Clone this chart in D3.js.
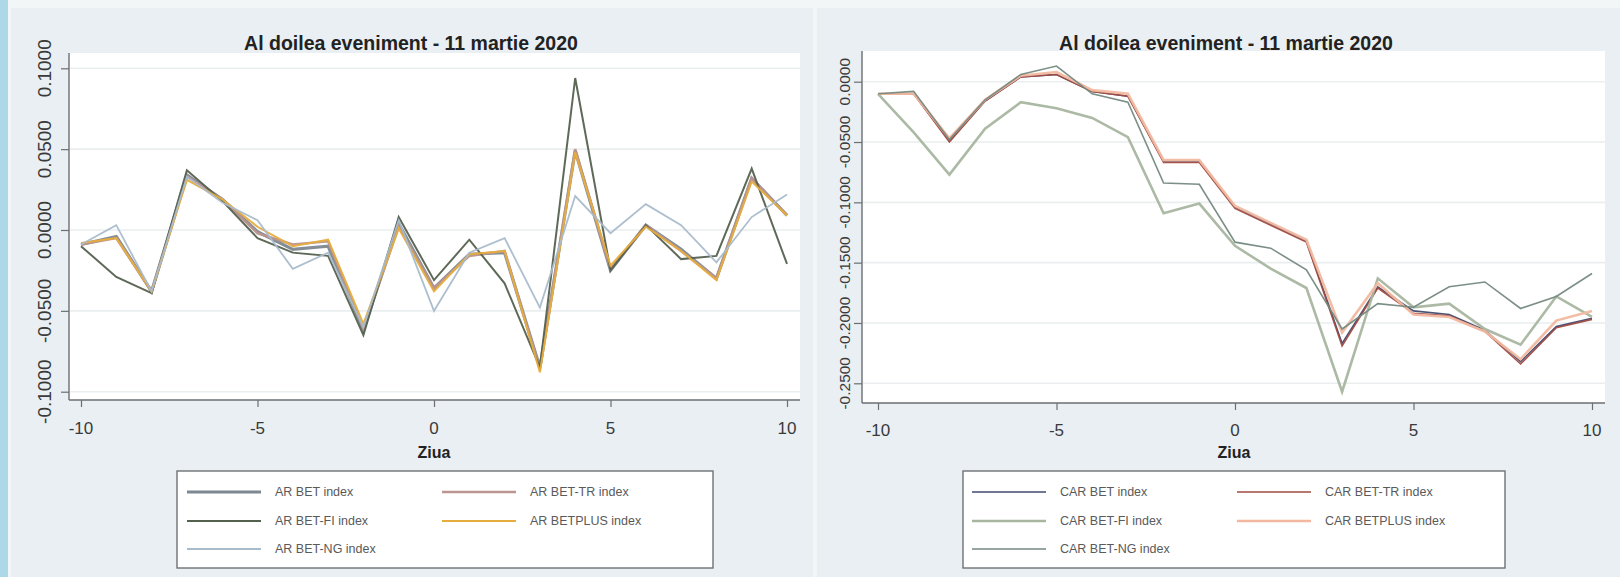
<!DOCTYPE html>
<html>
<head>
<meta charset="utf-8">
<script src="https://cdn.jsdelivr.net/npm/d3@7"></script>
<style>
  html, body { margin: 0; padding: 0; background: #ffffff; }
  svg { display: block; font-family: "Liberation Sans", Arial, sans-serif; }
</style>
</head>
<body>
<svg id="chart" width="1620" height="577"></svg>
<script>
// ---------- DATA ----------
const days = [-10,-9,-8,-7,-6,-5,-4,-3,-2,-1,0,1,2,3,4,5,6,7,8,9,10];
const chartTitle = "Al doilea eveniment - 11 martie 2020";
const xAxisTitle = "Ziua";
const xTicks = [-10, -5, 0, 5, 10];
const xTickLabels = ["-10", "-5", "0", "5", "10"];

const arTicks = [0.1, 0.05, 0, -0.05, -0.1];
const arTickLabels = ["0.1000", "0.0500", "0.0000", "-0.0500", "-0.1000"];
const carTicks = [0, -0.05, -0.1, -0.15, -0.2, -0.25];
const carTickLabels = ["0.0000", "-0.0500", "-0.1000", "-0.1500", "-0.2000", "-0.2500"];

// AR (abnormal returns)
const arBET     = [-0.009,-0.004,-0.038,0.034,0.019,-0.001,-0.012,-0.010,-0.062,0.004,-0.036,-0.015,-0.014,-0.085,0.049,-0.025,0.003,-0.012,-0.030,0.032,0.009];
const arBETTR   = [-0.009,-0.005,-0.038,0.033,0.019,-0.002,-0.009,-0.007,-0.061,0.002,-0.036,-0.016,-0.013,-0.086,0.050,-0.024,0.003,-0.013,-0.030,0.032,0.009];
const arBETFI   = [-0.010,-0.029,-0.039,0.037,0.018,-0.005,-0.014,-0.016,-0.065,0.008,-0.031,-0.006,-0.033,-0.085,0.094,-0.025,0.003,-0.018,-0.016,0.038,-0.021];
const arBETPLUS = [-0.008,-0.005,-0.038,0.031,0.019,0.002,-0.010,-0.006,-0.058,0.001,-0.038,-0.015,-0.013,-0.088,0.048,-0.022,0.002,-0.013,-0.031,0.030,0.009];
const arBETNG   = [-0.009,0.003,-0.038,0.033,0.017,0.006,-0.024,-0.014,-0.060,0.006,-0.050,-0.014,-0.005,-0.048,0.021,-0.002,0.016,0.003,-0.020,0.008,0.022];

// CAR (cumulative abnormal returns)
const carBET     = [-0.010,-0.010,-0.049,-0.016,0.004,0.006,-0.008,-0.012,-0.066,-0.066,-0.104,-0.118,-0.132,-0.217,-0.170,-0.190,-0.193,-0.206,-0.232,-0.203,-0.196];
const carBETTR   = [-0.010,-0.010,-0.050,-0.016,0.004,0.006,-0.008,-0.012,-0.067,-0.067,-0.105,-0.119,-0.133,-0.219,-0.171,-0.192,-0.194,-0.207,-0.234,-0.204,-0.197];
const carBETFI   = [-0.010,-0.042,-0.077,-0.039,-0.017,-0.022,-0.030,-0.046,-0.109,-0.101,-0.136,-0.155,-0.171,-0.257,-0.163,-0.187,-0.184,-0.205,-0.218,-0.178,-0.195];
const carBETPLUS = [-0.010,-0.010,-0.047,-0.015,0.005,0.008,-0.007,-0.010,-0.065,-0.065,-0.103,-0.117,-0.131,-0.208,-0.167,-0.193,-0.195,-0.207,-0.230,-0.198,-0.190];
const carBETNG   = [-0.010,-0.008,-0.048,-0.015,0.006,0.013,-0.010,-0.017,-0.084,-0.085,-0.133,-0.138,-0.156,-0.205,-0.184,-0.187,-0.170,-0.166,-0.188,-0.178,-0.159];

const arNames  = ["AR BET index", "AR BET-TR index", "AR BET-FI index", "AR BETPLUS index", "AR BET-NG index"];
const carNames = ["CAR BET index", "CAR BET-TR index", "CAR BET-FI index", "CAR BETPLUS index", "CAR BET-NG index"];

// ---------- STYLES ----------
const arStyles = [
  {color: "#7e8891", width: 3.2},
  {color: "#bb958f", width: 2.6},
  {color: "#55614f", width: 2.0},
  {color: "#e7ad3c", width: 2.0},
  {color: "#a9bccb", width: 1.8}
];
const carStyles = [
  {color: "#3f4a6e", width: 1.6},
  {color: "#a04a42", width: 1.6},
  {color: "#a8b6a0", width: 2.6},
  {color: "#f2b8a0", width: 2.6},
  {color: "#75897f", width: 1.6}
];

const svg = d3.select("#chart");

// background
svg.append("rect").attr("x", 0).attr("y", 0).attr("width", 1620).attr("height", 577).attr("fill", "#f3f6f7");
svg.append("rect").attr("x", 0).attr("y", 0).attr("width", 8).attr("height", 577).attr("fill", "#acd8e8");
svg.append("rect").attr("x", 11).attr("y", 8).attr("width", 802).attr("height", 569).attr("fill", "#e9eff2");
svg.append("rect").attr("x", 817).attr("y", 8).attr("width", 803).attr("height", 569).attr("fill", "#e9eff2");

function drawChart(cfg) {
  const g = svg.append("g");
  const x = d3.scaleLinear().domain([-10, 10]).range(cfg.xRange);
  const y = d3.scaleLinear().domain(cfg.yDomain).range(cfg.yRange);

  // plot area
  g.append("rect")
    .attr("x", cfg.plot.left).attr("y", cfg.plot.top)
    .attr("width", cfg.plot.right - cfg.plot.left)
    .attr("height", cfg.plot.bottom - cfg.plot.top)
    .attr("fill", "#ffffff");

  // gridlines
  g.selectAll(".grid").data(cfg.yTicks).enter().append("line")
    .attr("x1", cfg.plot.left + 1).attr("x2", cfg.plot.right)
    .attr("y1", d => y(d)).attr("y2", d => y(d))
    .attr("stroke", "#eaeeef").attr("stroke-width", 1.6);

  // series
  const line = d3.line().x((d, i) => x(days[i])).y(d => y(d));
  cfg.series.forEach((s, i) => {
    g.append("path").datum(s)
      .attr("d", line)
      .attr("fill", "none")
      .attr("stroke", cfg.styles[i].color)
      .attr("stroke-width", cfg.styles[i].width)
      .attr("stroke-linejoin", "miter")
      .attr("opacity", 0.95);
  });

  // y axis
  const yAxis = d3.axisLeft(y).tickValues(cfg.yTicks).tickSize(8).tickFormat(() => "");
  const ya = g.append("g").attr("transform", `translate(${cfg.plot.left},0)`).call(yAxis);
  ya.select(".domain").attr("d", `M0,${cfg.plot.top}V${cfg.plot.bottom}`).attr("stroke", "#6b6f72").attr("stroke-width", 1.4);
  ya.selectAll(".tick line").attr("stroke", "#6b6f72").attr("stroke-width", 1.2);
  g.selectAll(".ylab").data(cfg.yTicks).enter().append("text")
    .attr("transform", (d) => `translate(${cfg.yLabelX},${y(d)}) rotate(-90)`)
    .attr("text-anchor", "middle").attr("dy", "0.35em")
    .attr("font-size", cfg.yFont).attr("fill", "#3a3a3a")
    .text((d, i) => cfg.yTickLabels[i]);

  // x axis
  const xAxis = d3.axisBottom(x).tickValues(xTicks).tickSize(7).tickFormat(() => "");
  const xa = g.append("g").attr("transform", `translate(0,${cfg.plot.bottom})`).call(xAxis);
  xa.select(".domain").attr("d", `M${cfg.plot.left},0H${cfg.plot.right}`).attr("stroke", "#6b6f72").attr("stroke-width", 1.4);
  xa.selectAll(".tick line").attr("stroke", "#6b6f72").attr("stroke-width", 1.2);
  g.selectAll(".xlab").data(xTicks).enter().append("text")
    .attr("x", d => x(d)).attr("y", cfg.xLabelY)
    .attr("text-anchor", "middle").attr("dy", "0.35em")
    .attr("font-size", 17).attr("fill", "#3a3a3a")
    .text((d, i) => xTickLabels[i]);

  // titles
  g.append("text").attr("x", cfg.titleX).attr("y", 43).attr("dy", "0.35em")
    .attr("text-anchor", "middle").attr("font-size", 19.5).attr("font-weight", "bold").attr("fill", "#222")
    .text(chartTitle);
  g.append("text").attr("x", cfg.xTitleX).attr("y", 452).attr("dy", "0.35em")
    .attr("text-anchor", "middle").attr("font-size", 16).attr("font-weight", "bold").attr("fill", "#222")
    .text(xAxisTitle);

  // legend
  const L = cfg.legend;
  g.append("rect").attr("x", L.x).attr("y", L.y).attr("width", L.w).attr("height", L.h)
    .attr("fill", "#ffffff").attr("stroke", "#6e7275").attr("stroke-width", 1.4);
  const rows = [L.y + 21, L.y + 50, L.y + 78];
  cfg.names.forEach((name, i) => {
    const col = i % 2, row = Math.floor(i / 2);
    const lx = col === 0 ? L.c1 : L.c2;
    g.append("line").attr("x1", lx).attr("x2", lx + 74)
      .attr("y1", rows[row]).attr("y2", rows[row])
      .attr("stroke", cfg.styles[i].color).attr("stroke-width", cfg.styles[i].width);
    g.append("text").attr("x", lx + 88).attr("y", rows[row]).attr("dy", "0.35em")
      .attr("font-size", 12.5).attr("fill", "#5a5a5a").text(name);
  });
}

drawChart({
  xRange: [81, 787],
  yDomain: [-0.1, 0.1],
  yRange: [391.7, 68.3],
  plot: {left: 69, right: 800, top: 53, bottom: 400},
  yTicks: arTicks, yTickLabels: arTickLabels, yFont: 19,
  yLabelX: 44, xLabelY: 428,
  titleX: 411, xTitleX: 434,
  series: [arBET, arBETTR, arBETFI, arBETPLUS, arBETNG],
  styles: arStyles, names: arNames,
  legend: {x: 177, y: 471, w: 536, h: 97, c1: 187, c2: 442}
});

drawChart({
  xRange: [878, 1592],
  yDomain: [-0.25, 0],
  yRange: [383.3, 81.7],
  plot: {left: 862, right: 1605, top: 51, bottom: 403},
  yTicks: carTicks, yTickLabels: carTickLabels, yFont: 15.5,
  yLabelX: 845, xLabelY: 430,
  titleX: 1226, xTitleX: 1234,
  series: [carBET, carBETTR, carBETFI, carBETPLUS, carBETNG],
  styles: carStyles, names: carNames,
  legend: {x: 963, y: 471, w: 542, h: 97, c1: 972, c2: 1237}
});
</script>
</body>
</html>
